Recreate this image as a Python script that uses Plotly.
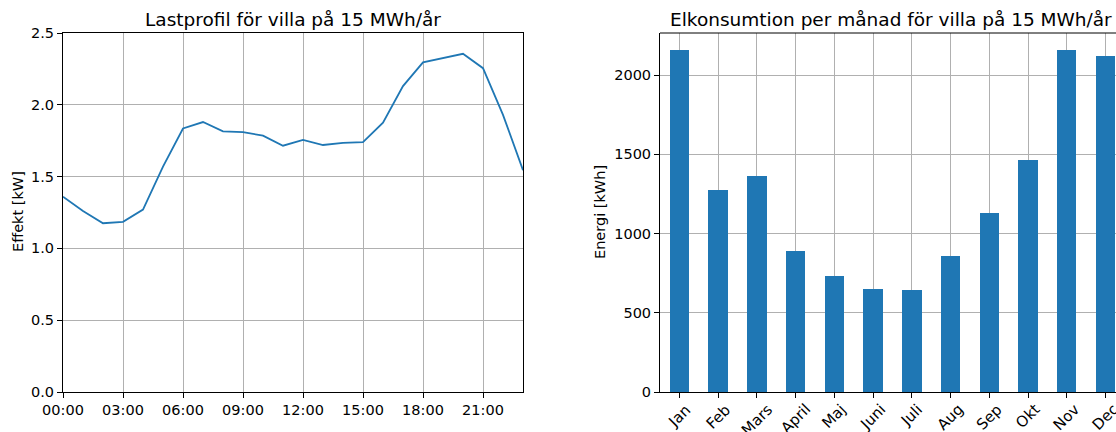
import plotly.graph_objects as go

hours = list(range(24))
hour_tick_vals = [0, 3, 6, 9, 12, 15, 18, 21]
hour_tick_text = ["00:00", "03:00", "06:00", "09:00", "12:00", "15:00", "18:00", "21:00"]
power_kw = [1.36, 1.26, 1.175, 1.185, 1.27, 1.57, 1.835, 1.88, 1.815, 1.81, 1.785, 1.715,
            1.755, 1.72, 1.735, 1.74, 1.875, 2.13, 2.295, 2.325, 2.355, 2.255, 1.93, 1.545]

months = ["Jan", "Feb", "Mars", "April", "Maj", "Juni", "Juli", "Aug", "Sep", "Okt", "Nov", "Dec"]
energy_kwh = [2158, 1275, 1363, 893, 735, 648, 641, 856, 1128, 1463, 2158, 2120]

W, H = 1116, 432
FONT = "DejaVu Sans"
BLUE = "#1f77b4"
GRID = "#b0b0b0"
TICK_SIZE = 14.5

def px_x(p):
    return p / W

def px_y(p):
    return (H - p) / H

fig = go.Figure()
fig.add_trace(go.Scatter(x=hours, y=power_kw, mode="lines",
                         line=dict(color=BLUE, width=1.8), xaxis="x", yaxis="y",
                         showlegend=False, hoverinfo="skip"))
month_idx = list(range(len(months)))
fig.add_trace(go.Bar(x=month_idx, y=energy_kwh, marker=dict(color=BLUE, line=dict(width=0)),
                     width=0.5, xaxis="x2", yaxis="y2", showlegend=False, hoverinfo="skip"))

axis_common = dict(showline=True, linecolor="black", linewidth=1, ticks="outside",
                   ticklen=5, tickwidth=1, tickcolor="black", showgrid=True,
                   gridcolor=GRID, gridwidth=1, zeroline=False, automargin=False,
                   tickfont=dict(family=FONT, size=TICK_SIZE, color="black"))

fig.update_layout(
    width=W, height=H, margin=dict(l=0, r=0, t=0, b=0, autoexpand=False),
    paper_bgcolor="white", plot_bgcolor="white",
    font=dict(family=FONT, color="black"),
    xaxis=dict(domain=[px_x(63), px_x(523)], range=[0, 23], tickvals=hour_tick_vals,
               ticktext=hour_tick_text, anchor="y", mirror=True, **axis_common),
    yaxis=dict(domain=[px_y(392), px_y(33)], range=[0, 2.5], tickvals=[0, 0.5, 1.0, 1.5, 2.0, 2.5],
               ticktext=["0.0", "0.5", "1.0", "1.5", "2.0", "2.5"], anchor="x", mirror=True, **axis_common),
    xaxis2=dict(domain=[px_x(660), 1.0], range=[-0.5, 11.27], tickvals=month_idx,
                showticklabels=False, anchor="y2", mirror=False, **axis_common),
    yaxis2=dict(domain=[px_y(392), px_y(33)], range=[0, 2266], tickvals=[0, 500, 1000, 1500, 2000],
                anchor="x2", mirror=False, **axis_common),
    bargap=0,
)

# top spine for right plot
fig.add_shape(type="line", xref="x2 domain", yref="y2 domain", x0=0, x1=1, y0=1, y1=1,
              line=dict(color="black", width=1))

# rotated month labels, centred under their ticks
for i, m in zip(month_idx, months):
    fig.add_annotation(text=m, xref="x2", yref="y2 domain", x=i, y=0, yshift=-6,
                       textangle=-45, showarrow=False, xanchor="center", yanchor="top",
                       font=dict(family=FONT, size=15, color="black"))

fig.add_annotation(text="Lastprofil för villa på 15 MWh/år", xref="paper", yref="paper",
                   x=px_x(293), y=px_y(20), showarrow=False, xanchor="center", yanchor="middle",
                   font=dict(family=FONT, size=18.5, color="black"))
fig.add_annotation(text="Elkonsumtion per månad för villa på 15 MWh/år", xref="paper", yref="paper",
                   x=px_x(891), y=px_y(20), showarrow=False, xanchor="center", yanchor="middle",
                   font=dict(family=FONT, size=18.5, color="black"))
fig.add_annotation(text="Effekt [kW]", xref="paper", yref="paper", x=px_x(18), y=px_y(212),
                   textangle=-90, showarrow=False, xanchor="center", yanchor="middle",
                   font=dict(family=FONT, size=TICK_SIZE, color="black"))
fig.add_annotation(text="Energi [kWh]", xref="paper", yref="paper", x=px_x(600), y=px_y(212),
                   textangle=-90, showarrow=False, xanchor="center", yanchor="middle",
                   font=dict(family=FONT, size=TICK_SIZE, color="black"))

fig.write_html("out.html", config={"displayModeBar": False},
               post_script="document.body.style.margin='0px';")
